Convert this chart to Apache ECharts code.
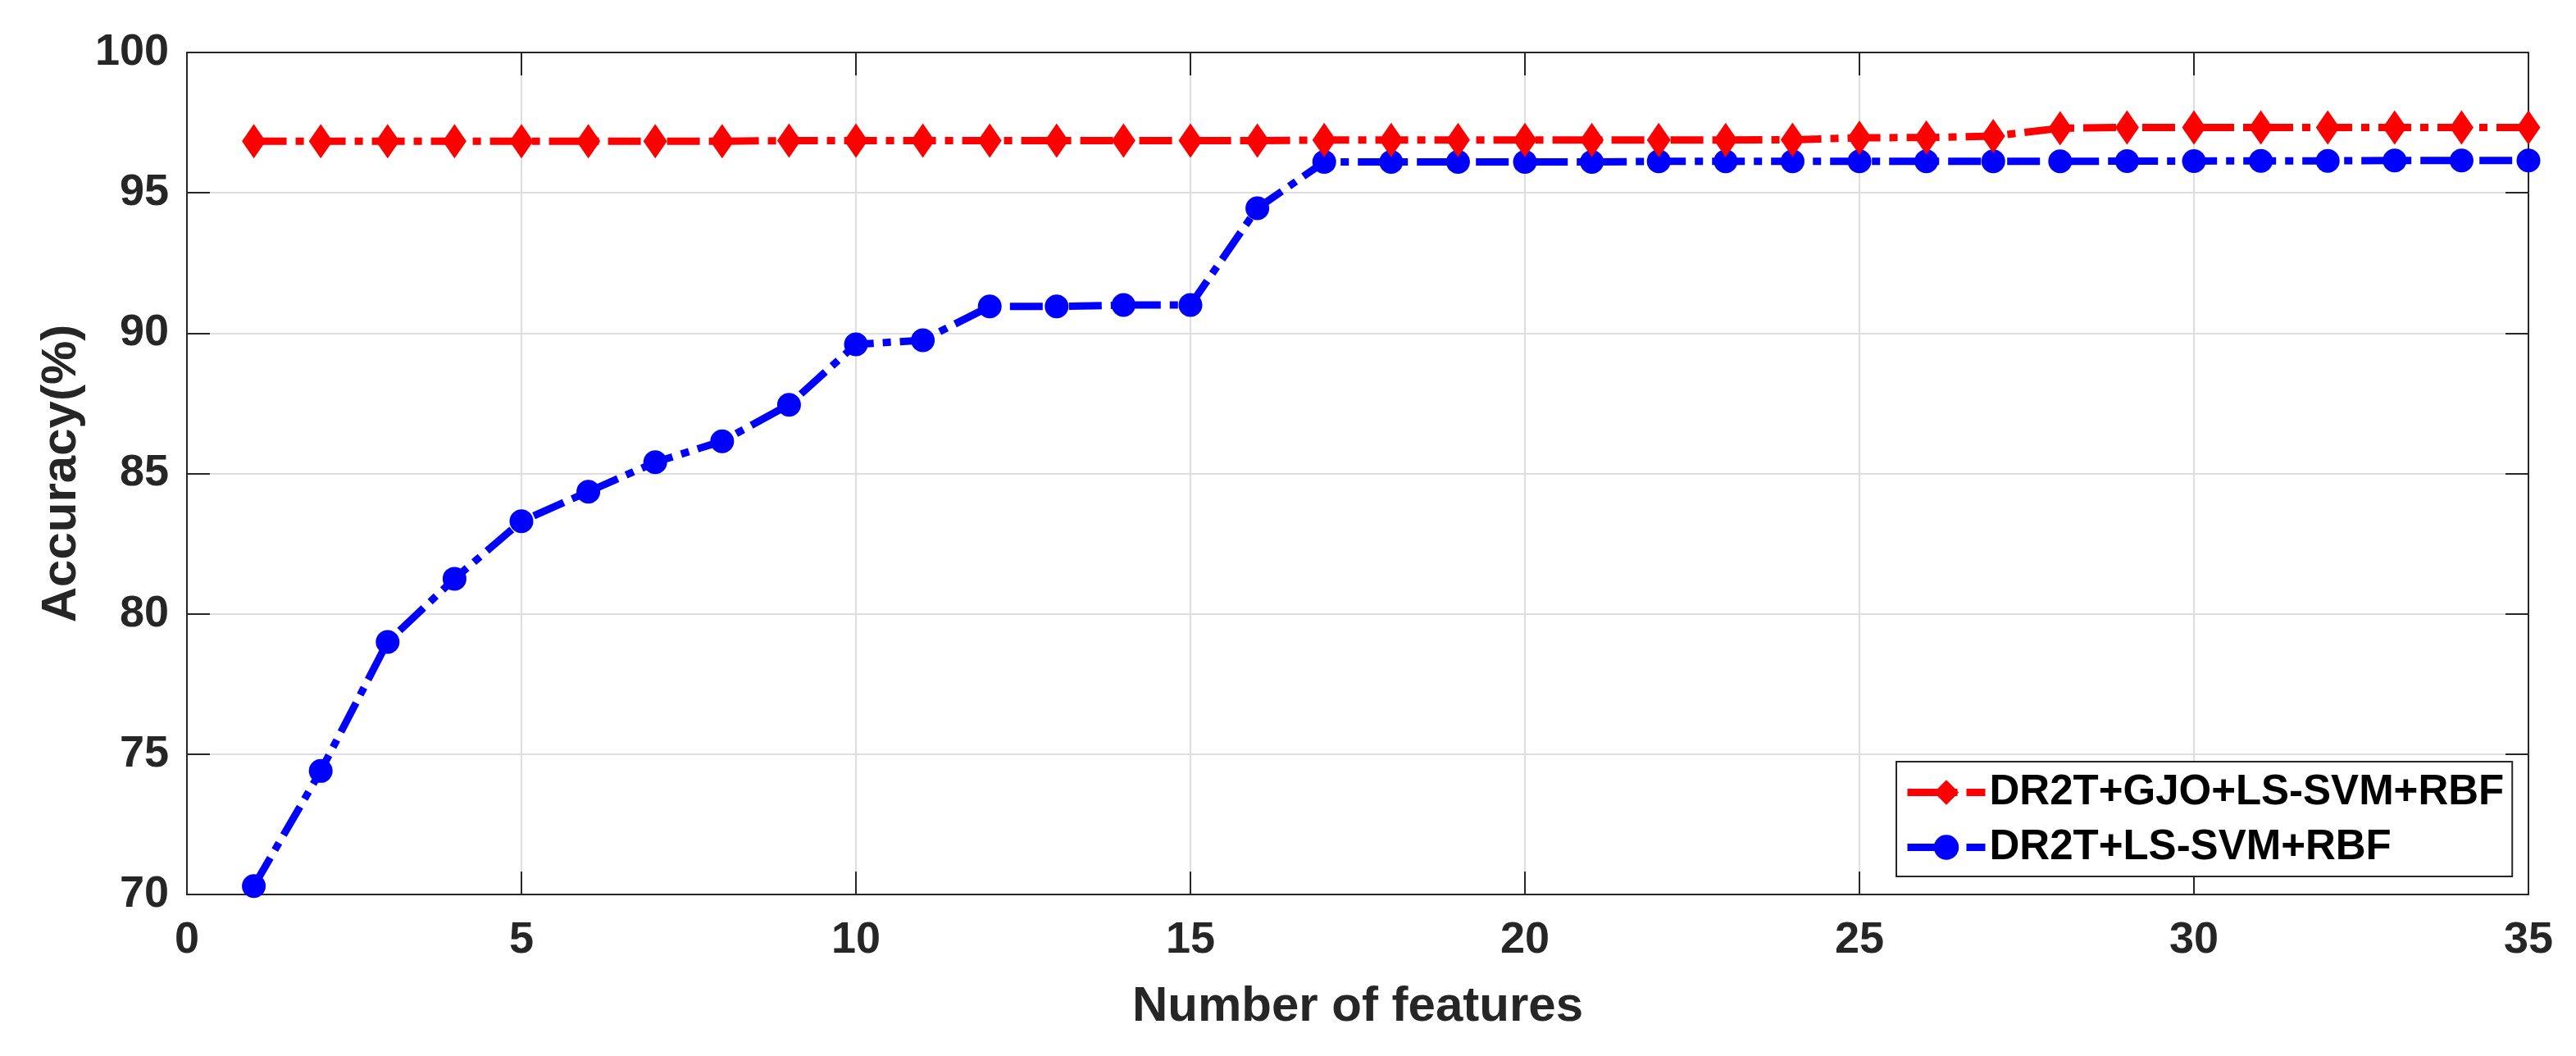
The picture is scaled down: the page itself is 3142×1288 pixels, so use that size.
<!DOCTYPE html>
<html>
<head>
<meta charset="utf-8">
<script src="https://cdn.jsdelivr.net/npm/echarts@6/dist/echarts.min.js"></script>
<style>
html,body{margin:0;padding:0;background:#fff;}
#chart{width:3142px;height:1288px;}
</style>
</head>
<body>
<div id="chart"></div>
<script>
// ---- data ----
const features = [1,2,3,4,5,6,7,8,9,10,11,12,13,14,15,16,17,18,19,20,21,22,23,24,25,26,27,28,29,30,31,32,33,34,35];
const gjoAccuracy = [96.84,96.84,96.84,96.84,96.84,96.84,96.84,96.84,96.86,96.86,96.86,96.86,96.86,96.86,96.86,96.86,96.88,96.88,96.88,96.88,96.88,96.88,96.88,96.89,96.96,96.97,97.02,97.30,97.33,97.33,97.33,97.33,97.33,97.33,97.33];
const baseAccuracy = [70.3,74.4,79.0,81.25,83.3,84.35,85.4,86.15,87.45,89.6,89.75,90.95,90.95,91.0,91.0,94.45,96.1,96.1,96.1,96.1,96.1,96.12,96.12,96.12,96.12,96.12,96.12,96.12,96.13,96.13,96.14,96.14,96.15,96.15,96.15];
const seriesNames = ['DR2T+GJO+LS-SVM+RBF','DR2T+LS-SVM+RBF'];
const xTitle = 'Number of features';
const yTitle = 'Accuracy(%)';

const FONT = '"Liberation Sans", Arial, Helvetica, sans-serif';
const AX = '#262626';
const DASH = [40,11,10,11];
const chart = echarts.init(document.getElementById('chart'));

function pairs(xs, ys){ return xs.map((x,i)=>[x, ys[i]]); }

const frameAxisCommon = {
  axisLine:{show:true, onZero:false, lineStyle:{color:AX, width:2}},
  axisTick:{show:true, inside:true, length:28, lineStyle:{color:AX, width:2}},
  axisLabel:{show:false},
  splitLine:{show:false}
};

chart.setOption({
  backgroundColor:'#ffffff',
  animation:false,
  grid:{left:228, right:58, top:64, bottom:197, containLabel:false},
  legend:{
    orient:'vertical',
    left:2313, top:929,
    padding:[12,10,10,9],
    backgroundColor:'#ffffff',
    borderColor:AX, borderWidth:2, borderRadius:0,
    itemWidth:95, itemHeight:38, itemGap:16,
    lineStyle:{width:9},
    textStyle:{fontFamily:FONT, fontWeight:'bold', fontSize:51, color:'#000'},
    data:seriesNames
  },
  xAxis:[{
    type:'value', min:0, max:35, interval:5, position:'bottom',
    name:xTitle, nameLocation:'middle', nameGap:107,
    nameTextStyle:{fontFamily:FONT, fontWeight:'bold', fontSize:60, color:AX},
    axisLine:{show:true, onZero:false, lineStyle:{color:AX, width:2}},
    axisTick:{show:true, inside:true, length:28, lineStyle:{color:AX, width:2}},
    axisLabel:{fontFamily:FONT, fontWeight:'bold', fontSize:54, color:AX, margin:29},
    splitLine:{show:true, lineStyle:{color:'#dedede', width:2}}
  },{
    type:'value', min:0, max:35, interval:5, position:'top', ...frameAxisCommon
  }],
  yAxis:[{
    type:'value', min:70, max:100, interval:5, position:'left',
    name:yTitle, nameLocation:'middle', nameGap:122, nameRotate:90,
    nameTextStyle:{fontFamily:FONT, fontWeight:'bold', fontSize:60, color:AX},
    axisLine:{show:true, onZero:false, lineStyle:{color:AX, width:2}},
    axisTick:{show:true, inside:true, length:28, lineStyle:{color:AX, width:2}},
    axisLabel:{fontFamily:FONT, fontWeight:'bold', fontSize:54, color:AX, margin:22},
    splitLine:{show:true, lineStyle:{color:'#dedede', width:2}}
  },{
    type:'value', min:70, max:100, interval:5, position:'right', ...frameAxisCommon
  }],
  series:[{
    name:seriesNames[0], type:'line', xAxisIndex:0, yAxisIndex:0,
    data:pairs(features, gjoAccuracy),
    symbol:'diamond', symbolSize:[29,42], showAllSymbol:true,
    lineStyle:{color:'#ff0000', width:9, type:DASH},
    itemStyle:{color:'#ff0000', borderColor:'#ff0000', borderWidth:0},
    z:3
  },{
    name:seriesNames[1], type:'line', xAxisIndex:0, yAxisIndex:0,
    data:pairs(features, baseAccuracy),
    symbol:'circle', symbolSize:[29,29], showAllSymbol:true,
    lineStyle:{color:'#0000ff', width:9, type:DASH},
    itemStyle:{color:'#0000ff', borderColor:'#0000ff', borderWidth:0},
    z:2
  }]
});
</script>
</body>
</html>
